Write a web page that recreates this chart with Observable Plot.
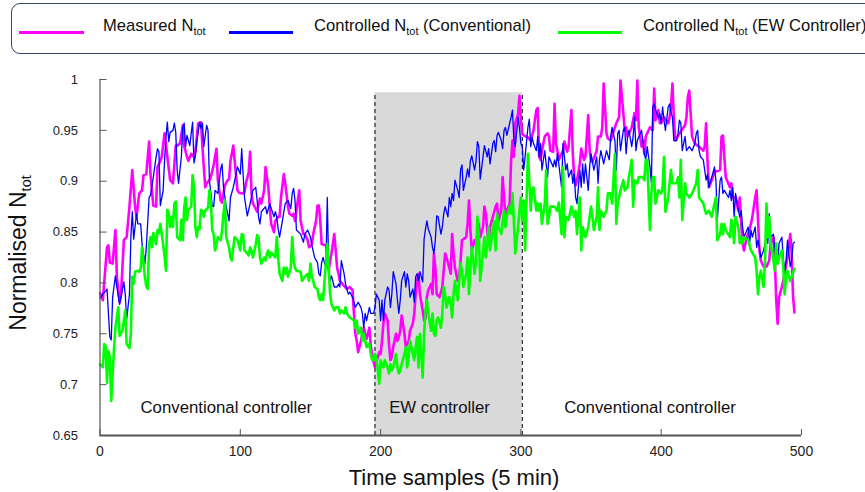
<!DOCTYPE html>
<html><head><meta charset="utf-8">
<script src="https://cdn.jsdelivr.net/npm/d3@7"></script>
<script src="https://cdn.jsdelivr.net/npm/@observablehq/plot@0.6"></script>
<style>
body{margin:0;background:#fff;font-family:"Liberation Sans",Arial,sans-serif;}
#wrap{position:relative;width:865px;height:492px;overflow:hidden;}
#wrap svg{position:absolute;left:0;top:0;}
#legend{position:absolute;left:11px;top:3px;width:900px;height:51px;border:1.3px solid #34456a;border-radius:9px;box-sizing:border-box;}
.lg-line{position:absolute;height:3.2px;top:26.5px;}
.lg-text{position:absolute;top:12px;font-size:16.6px;color:#111;white-space:nowrap;}
.lg-text sub{font-size:11px;vertical-align:-4px;line-height:0;}
#xtitle{position:absolute;left:454px;top:478px;transform:translate(-50%,-50%);font-size:22px;white-space:nowrap;color:#111;}
#ytitle{position:absolute;left:18px;top:253px;transform:translate(-50%,-50%) rotate(-90deg);font-size:23px;white-space:nowrap;color:#111;}
#ytitle sub{font-size:14.5px;vertical-align:-5px;line-height:0;}
</style>
</head><body>
<div id="wrap"></div>
<script>
// ---------- data ----------
const seriesNames = ["Measured N", "Controlled N", "Controlled N"];
const seriesSuffix = ["", " (Conventional)", " (EW Controller)"];
const seriesColors = ["#ff00ff", "#0000ff", "#00ff00"];

// [time sample, normalised Ntot]
const measured = [[0,0.790],[2,0.783],[5,0.835],[6,0.837],[7,0.820],[9,0.819],[11,0.852],[12,0.806],[14,0.781],[15,0.789],[17,0.842],[19,0.845],[21,0.875],[23,0.911],[25,0.875],[26,0.865],[28,0.888],[30,0.891],[31,0.906],[33,0.907],[35,0.939],[36,0.907],[38,0.876],[40,0.875],[41,0.914],[43,0.920],[44,0.924],[46,0.947],[47,0.937],[48,0.924],[50,0.901],[52,0.898],[54,0.935],[55,0.935],[57,0.937],[59,0.955],[60,0.935],[62,0.924],[63,0.920],[65,0.927],[66,0.925],[68,0.929],[70,0.957],[72,0.958],[73,0.934],[75,0.894],[76,0.898],
[78,0.901],[79,0.904],[81,0.916],[83,0.932],[84,0.901],[86,0.881],[87,0.879],[89,0.896],[91,0.901],[92,0.902],[93,0.920],[95,0.935],[96,0.920],[98,0.891],[99,0.889],[101,0.888],[103,0.889],[104,0.898],[106,0.909],[107,0.929],[108,0.888],[109,0.878],[111,0.873],[112,0.870],[114,0.883],[115,0.878],[117,0.891],[118,0.914],[120,0.894],[121,0.875],[122,0.858],[124,0.850],[125,0.861],[127,0.865],[128,0.865],[129,0.884],[131,0.907],[132,0.898],[134,0.875],[135,0.868],[137,0.866],[138,0.868],[139,0.861],[141,0.881],[142,0.891],[143,0.861],[145,0.848],[146,0.848],[148,0.842],[149,0.835],[151,0.838],[152,0.848],[154,0.861],[155,0.876],
[156,0.876],[157,0.861],[158,0.838],[161,0.837],[162,0.829],[163,0.812],[164,0.822],[165,0.829],[167,0.848],[168,0.832],[169,0.815],[170,0.809],[171,0.802],[174,0.797],[176,0.794],[178,0.796],[180,0.793],[181,0.770],[182,0.750],[183,0.743],[184,0.732],[186,0.743],[187,0.750],[188,0.756],[189,0.750],[190,0.745],[192,0.756],[193,0.738],[194,0.730],[195,0.722],[196,0.717],[197,0.722],[199,0.732],[200,0.730],[201,0.743],[202,0.760],[203,0.770],[205,0.763],[206,0.740],[207,0.724],[208,0.727],[209,0.737],[211,0.750],[212,0.743],[213,0.747],[214,0.753],[215,0.768],[217,0.750],[218,0.737],[219,0.740],[220,0.743],[221,0.753],[223,0.760],[224,0.770],[225,0.789],[226,0.802],[227,0.809],[228,0.789],[230,0.773],[231,0.763],[232,0.765],[233,0.786],
[234,0.793],[236,0.799],[237,0.789],[238,0.829],[239,0.815],[240,0.789],[242,0.786],[244,0.796],[245,0.812],[246,0.829],[247,0.825],[249,0.815],[250,0.809],[251,0.848],[252,0.829],[253,0.815],[255,0.802],[256,0.806],[257,0.822],[258,0.842],[261,0.845],[262,0.858],[263,0.881],[264,0.852],[265,0.832],[267,0.842],[268,0.838],[269,0.848],[270,0.858],[271,0.845],[273,0.855],[274,0.875],[275,0.868],[276,0.852],[277,0.838],[278,0.855],[280,0.865],[282,0.875],[283,0.878],[284,0.861],[286,0.871],[287,0.904],[288,0.884],[289,0.865],[290,0.871],[292,0.878],[293,0.920],[294,0.940],[295,0.924],[296,0.957],[298,0.966],[299,0.984],[300,0.960],[301,0.947],[302,0.945],[305,0.943],[307,0.940],[309,0.950],[311,0.970],[312,0.972],
[313,0.924],[314,0.921],[315,0.930],[317,0.944],[319,0.947],[320,0.944],[321,0.930],[323,0.929],[324,0.976],[325,0.937],[326,0.930],[327,0.921],[330,0.930],[331,0.939],[333,0.929],[334,0.934],[336,0.970],[337,0.927],[338,0.904],[339,0.896],[340,0.901],[342,0.917],[343,0.932],[345,0.921],[346,0.924],[348,0.965],[349,0.930],[350,0.921],[351,0.919],[354,0.930],[355,0.944],[357,0.944],[358,0.953],[359,0.996],[361,0.947],[362,0.942],[364,0.940],[367,0.953],[368,0.957],[370,0.963],[371,0.999],[373,0.967],[374,0.950],[375,0.953],[376,0.944],[379,0.953],[381,0.967],[382,0.960],[383,0.999],[384,0.953],[386,0.934],[387,0.940],[388,0.927],[389,0.944],[392,0.953],[394,0.950],[395,0.991],[396,0.960],[398,0.970],[399,0.957],
[400,0.957],[402,0.963],[405,0.957],[406,0.963],[407,0.973],[408,0.996],[409,0.963],[410,0.940],[413,0.947],[417,0.955],[418,0.963],[419,0.983],[420,0.989],[421,0.967],[422,0.944],[424,0.937],[427,0.934],[430,0.930],[431,0.934],[432,0.957],[433,0.921],[434,0.894],[436,0.901],[438,0.909],[442,0.911],[443,0.944],[444,0.945],[445,0.924],[446,0.904],[449,0.894],[450,0.898],[451,0.884],[453,0.884],[455,0.871],[456,0.884],[457,0.858],[458,0.839],[459,0.832],[461,0.845],[463,0.852],[465,0.865],[467,0.884],[468,0.891],[469,0.862],[470,0.832],[471,0.822],[473,0.816],[475,0.816],[477,0.822],[478,0.839],[480,0.845],[481,0.822],[482,0.783],[483,0.760],[484,0.786],[486,0.796],[488,0.809],[490,0.825],[492,0.848],[493,0.829],[494,0.786],[495,0.771]];

const conventional = [[0,0.785],[2,0.789],[4,0.792],[5,0.794],[7,0.747],[8,0.744],[9,0.786],[11,0.807],[12,0.796],[14,0.779],[15,0.786],[17,0.801],[18,0.789],[19,0.764],[21,0.789],[22,0.845],[23,0.870],[24,0.843],[26,0.868],[27,0.858],[29,0.858],[30,0.838],[32,0.819],[33,0.835],[35,0.884],[36,0.886],[38,0.904],[39,0.914],[40,0.924],[41,0.932],[42,0.929],[43,0.876],[45,0.891],[46,0.920],[47,0.943],[48,0.958],[49,0.939],[50,0.948],[52,0.950],[53,0.957],[54,0.948],[55,0.911],[56,0.898],[58,0.924],[59,0.953],[60,0.957],[61,0.934],[62,0.945],[64,0.935],[65,0.947],[66,0.958],[67,0.918],[68,0.925],[69,0.939],[71,0.958],[72,0.952],[73,0.957],[74,0.934],[76,0.955],[77,0.950],
[78,0.901],[80,0.876],[81,0.875],[82,0.891],[84,0.888],[86,0.912],[87,0.917],[88,0.894],[90,0.875],[92,0.861],[93,0.884],[95,0.894],[98,0.914],[100,0.907],[101,0.932],[102,0.907],[103,0.884],[105,0.866],[107,0.878],[109,0.891],[111,0.894],[112,0.881],[113,0.865],[114,0.858],[115,0.870],[118,0.875],[119,0.868],[121,0.878],[124,0.865],[125,0.870],[126,0.865],[127,0.853],[128,0.845],[130,0.861],[132,0.878],[134,0.881],[136,0.873],[137,0.888],[138,0.893],[139,0.881],[140,0.852],[143,0.848],[145,0.840],[146,0.848],[148,0.852],[150,0.845],[151,0.837],[153,0.825],[155,0.820],[156,0.809],[157,0.807],[158,0.820],[159,0.825],[161,0.815],
[162,0.884],[163,0.815],[164,0.802],[165,0.807],[167,0.796],[169,0.796],[170,0.799],[171,0.796],[172,0.822],[174,0.809],[175,0.799],[177,0.789],[178,0.791],[180,0.786],[181,0.781],[182,0.776],[184,0.781],[186,0.776],[187,0.770],[188,0.756],[189,0.770],[190,0.763],[192,0.776],[193,0.770],[195,0.770],[196,0.776],[197,0.789],[199,0.783],[200,0.763],[201,0.783],[202,0.763],[203,0.783],[205,0.796],[206,0.793],[207,0.776],[208,0.789],[209,0.811],[211,0.799],[212,0.783],[213,0.770],[214,0.783],[215,0.802],[217,0.811],[218,0.796],[219,0.809],[220,0.802],[221,0.786],[223,0.794],[224,0.781],[225,0.806],[226,0.809],[227,0.802],[228,0.811],[230,0.801],[231,0.843],[232,0.853],[233,0.861],[234,0.853],[236,0.845],[237,0.835],[238,0.829],[239,0.842],[240,0.866],
[241,0.865],[243,0.848],[244,0.855],[245,0.868],[246,0.875],[248,0.865],[249,0.884],[250,0.875],[251,0.888],[252,0.881],[253,0.901],[255,0.891],[256,0.884],[257,0.911],[258,0.916],[259,0.891],[261,0.904],[262,0.912],[263,0.904],[264,0.920],[265,0.925],[267,0.911],[268,0.920],[269,0.939],[270,0.934],[271,0.902],[273,0.924],[274,0.935],[276,0.924],[277,0.932],[278,0.917],[280,0.937],[281,0.940],[282,0.929],[283,0.945],[284,0.948],[286,0.940],[287,0.932],[288,0.950],[289,0.953],[290,0.945],[292,0.957],[293,0.963],[294,0.970],[295,0.940],[296,0.934],[298,0.963],[299,0.952],[300,0.937],[301,0.934],[302,0.911],[303,0.924],[305,0.953],[306,0.961],[307,0.934],[308,0.943],[309,0.937],[311,0.930],[312,0.944],
[313,0.924],[314,0.937],[315,0.911],[317,0.930],[318,0.917],[319,0.904],[320,0.924],[323,0.914],[324,0.921],[325,0.914],[326,0.927],[327,0.917],[329,0.894],[330,0.937],[331,0.924],[332,0.911],[333,0.917],[334,0.904],[336,0.911],[337,0.898],[338,0.907],[339,0.884],[340,0.878],[342,0.911],[343,0.894],[344,0.917],[345,0.898],[346,0.917],[348,0.891],[349,0.914],[350,0.927],[352,0.911],[354,0.924],[355,0.898],[356,0.921],[357,0.930],[359,0.917],[361,0.930],[363,0.921],[364,0.944],[365,0.953],[367,0.940],[368,0.911],[369,0.947],[370,0.950],[371,0.930],[373,0.950],[374,0.953],[375,0.927],[376,0.944],[377,0.950],[379,0.934],[380,0.944],[381,0.963],[382,0.930],[383,0.940],[386,0.950],[388,0.927],[389,0.921],[390,0.934],[392,0.914],[393,0.898],[394,0.973],[395,0.976],[396,0.970],[398,0.962],[399,0.967],
[400,0.957],[401,0.973],[402,0.960],[403,0.950],[405,0.973],[406,0.976],[407,0.967],[408,0.963],[409,0.940],[411,0.940],[412,0.947],[413,0.960],[414,0.957],[415,0.930],[417,0.944],[418,0.930],[420,0.934],[422,0.930],[424,0.937],[425,0.947],[426,0.950],[427,0.930],[428,0.924],[430,0.921],[431,0.911],[432,0.901],[433,0.907],[434,0.894],[436,0.904],[438,0.914],[439,0.901],[440,0.862],[442,0.901],[443,0.904],[444,0.888],[445,0.891],[448,0.884],[449,0.891],[450,0.881],[451,0.894],[452,0.865],[453,0.888],[455,0.871],[456,0.865],[457,0.871],[458,0.855],[459,0.845],[462,0.855],[463,0.839],[464,0.852],[465,0.845],[467,0.855],[468,0.835],[469,0.842],[470,0.835],[471,0.825],[473,0.832],[474,0.839],[475,0.845],[476,0.839],[477,0.868],[478,0.845],[480,0.848],[481,0.832],[482,0.825],[483,0.819],[484,0.839],[486,0.845],[487,0.825],[488,0.812],[489,0.822],[490,0.842],[492,0.816],[493,0.822],[494,0.839],[495,0.840]];

const ew = [[0,0.720],[2,0.717],[3,0.740],[4,0.738],[5,0.702],[6,0.733],[7,0.727],[8,0.684],[10,0.736],[11,0.756],[13,0.776],[14,0.748],[16,0.753],[17,0.763],[18,0.773],[19,0.740],[21,0.736],[22,0.750],[23,0.806],[24,0.799],[25,0.811],[27,0.812],[28,0.811],[29,0.814],[30,0.835],[32,0.806],[33,0.797],[34,0.794],[35,0.838],[36,0.845],[37,0.835],[38,0.849],[40,0.838],[41,0.852],[42,0.849],[43,0.858],[45,0.838],[46,0.827],[47,0.812],[48,0.872],[49,0.868],[50,0.855],[51,0.865],[52,0.855],[53,0.878],[54,0.880],[55,0.845],[57,0.842],[58,0.862],[59,0.842],[60,0.874],[61,0.884],[62,0.862],[63,0.872],[65,0.875],[66,0.906],[67,0.894],[68,0.855],[69,0.845],[70,0.855],[71,0.853],[72,0.872],[73,0.871],[74,0.865],[75,0.871],[77,0.874],[78,0.891],[79,0.880],
[80,0.852],[81,0.848],[82,0.832],[83,0.838],[84,0.845],[86,0.842],[87,0.852],[88,0.868],[89,0.881],[90,0.845],[92,0.835],[93,0.825],[94,0.822],[95,0.835],[96,0.845],[98,0.842],[100,0.832],[101,0.848],[102,0.847],[103,0.832],[105,0.829],[106,0.827],[107,0.835],[108,0.832],[109,0.825],[111,0.838],[112,0.847],[113,0.845],[114,0.825],[115,0.819],[117,0.825],[118,0.822],[119,0.829],[120,0.832],[121,0.825],[122,0.830],[125,0.825],[126,0.845],[127,0.825],[128,0.809],[130,0.802],[131,0.815],[132,0.809],[133,0.815],[134,0.806],[136,0.815],[137,0.845],[138,0.822],[139,0.815],[140,0.812],[143,0.811],[144,0.802],[146,0.806],[148,0.809],[149,0.802],[150,0.819],[151,0.806],[152,0.802],[153,0.796],[155,0.794],[156,0.786],[157,0.783],[158,0.789],[159,0.783],
[162,0.838],[163,0.815],[164,0.789],[165,0.779],[167,0.773],[168,0.776],[170,0.776],[171,0.770],[172,0.773],[174,0.770],[175,0.776],[176,0.770],[178,0.766],[181,0.763],[182,0.756],[183,0.763],[184,0.750],[186,0.756],[187,0.743],[188,0.750],[189,0.743],[190,0.737],[192,0.740],[193,0.730],[194,0.724],[195,0.724],[196,0.730],[197,0.727],[199,0.701],[200,0.724],[201,0.720],[202,0.717],[203,0.724],[205,0.717],[206,0.711],[207,0.720],[208,0.714],[209,0.717],[211,0.730],[212,0.717],[213,0.711],[214,0.714],[215,0.720],[217,0.730],[218,0.737],[219,0.717],[220,0.727],[221,0.743],[223,0.730],[224,0.724],[225,0.737],[226,0.747],[227,0.717],[228,0.750],[230,0.707],[231,0.750],[232,0.773],[233,0.783],[234,0.770],
[236,0.753],[237,0.770],[238,0.750],[239,0.748],[240,0.763],[241,0.766],[243,0.756],[244,0.770],[245,0.796],[246,0.789],[247,0.776],[249,0.786],[250,0.779],[251,0.766],[252,0.789],[253,0.802],[255,0.783],[256,0.802],[257,0.819],[258,0.812],[259,0.796],[261,0.809],[262,0.825],[263,0.789],[264,0.815],[265,0.835],[267,0.809],[268,0.822],[269,0.865],[270,0.848],[271,0.802],[273,0.829],[274,0.845],[275,0.825],[276,0.838],[277,0.855],[278,0.832],[280,0.852],[281,0.861],[282,0.832],[283,0.868],[284,0.855],[286,0.848],[287,0.861],[288,0.871],[289,0.855],[290,0.865],[292,0.875],[293,0.868],[294,0.888],[295,0.861],[296,0.829],[298,0.855],[299,0.871],[300,0.884],[301,0.861],[302,0.881],[303,0.832],[305,0.927],[306,0.901],[307,0.871],[308,0.891],[309,0.894],[311,0.871],[312,0.878],
[313,0.871],[314,0.878],[315,0.858],[317,0.878],[318,0.911],[319,0.858],[320,0.865],[321,0.875],[324,0.875],[326,0.871],[327,0.879],[329,0.848],[330,0.914],[331,0.845],[332,0.865],[334,0.862],[336,0.875],[338,0.865],[339,0.871],[340,0.848],[342,0.884],[343,0.832],[344,0.855],[346,0.845],[348,0.855],[350,0.875],[351,0.865],[352,0.852],[354,0.865],[355,0.894],[356,0.852],[357,0.871],[359,0.865],[361,0.871],[362,0.888],[364,0.888],[365,0.878],[367,0.927],[368,0.858],[369,0.878],[371,0.891],[373,0.901],[374,0.891],[376,0.894],[377,0.904],[379,0.921],[380,0.875],[381,0.901],[383,0.898],[384,0.904],[387,0.904],[388,0.901],[389,0.921],[390,0.921],[392,0.852],[393,0.888],[394,0.904],[395,0.904],[396,0.878],[398,0.891],
[400,0.888],[401,0.894],[402,0.924],[403,0.870],[405,0.884],[406,0.898],[407,0.911],[408,0.898],[411,0.898],[412,0.904],[413,0.884],[414,0.921],[415,0.862],[417,0.898],[418,0.888],[420,0.884],[422,0.888],[425,0.898],[426,0.911],[427,0.884],[430,0.878],[432,0.868],[434,0.871],[436,0.865],[438,0.878],[439,0.884],[440,0.842],[442,0.848],[443,0.858],[444,0.848],[445,0.858],[446,0.852],[449,0.845],[450,0.862],[451,0.855],[452,0.839],[453,0.865],[455,0.855],[456,0.839],[457,0.845],[458,0.839],[459,0.845],[462,0.842],[464,0.832],[467,0.825],[468,0.812],[469,0.789],[470,0.806],[471,0.812],[473,0.796],[474,0.822],[475,0.878],[476,0.845],[477,0.865],[478,0.839],[480,0.822],[481,0.812],[482,0.839],[483,0.819],[484,0.825],[486,0.832],[487,0.816],[488,0.789],[489,0.806],[490,0.812],[492,0.802],[493,0.806],[495,0.814]];

const xTicks = [0, 100, 200, 300, 400, 500];
const yTicks = [0.65, 0.7, 0.75, 0.8, 0.85, 0.9, 0.95, 1];
const ewPeriod = [{start: 196, end: 301, top: 0.987}];
const ewEdges = [196, 301];
const regionLabels = [
  {label: "Conventional controller", t: 90, v: 0.677},
  {label: "EW controller", t: 242, v: 0.677},
  {label: "Conventional controller", t: 392, v: 0.677}
];
const xTitle = "Time samples (5 min)";
const yTitle = "Normalised N";
const subText = "tot";

// ---------- chart ----------
const W = 865, H = 492, mL = 99.5, mR = 64, mT = 79, mB = 57;
const font = "'Liberation Sans', Arial, sans-serif";
const axisColor = "#555";

const chart = Plot.plot({
  width: W, height: H,
  marginLeft: mL, marginRight: mR, marginTop: mT, marginBottom: mB,
  style: {fontFamily: font, background: "transparent", overflow: "visible"},
  x: {domain: [0, 500]},
  y: {domain: [0.65, 1]},
  marks: [
    Plot.rect(ewPeriod, {x1: "start", x2: "end", y1: 0.65, y2: "top", fill: "#d9d9d9"}),
    Plot.ruleX(ewEdges, {x: d => d, y1: 0.65, y2: ewPeriod[0].top, stroke: "#000", strokeWidth: 1, strokeDasharray: "4,3"}),
    Plot.line(measured, {x: d => d[0], y: d => d[1], stroke: seriesColors[0], strokeWidth: 2.6}),
    Plot.line(conventional, {x: d => d[0], y: d => d[1], stroke: seriesColors[1], strokeWidth: 1.3}),
    Plot.line(ew, {x: d => d[0], y: d => d[1], stroke: seriesColors[2], strokeWidth: 2.6}),
    // inward ticks
    Plot.ruleY(yTicks, {y: d => d, insetRight: W - mL - mR - 7, stroke: axisColor}),
    Plot.ruleX(xTicks, {x: d => d, insetTop: H - mT - mB - 6, stroke: axisColor}),
    // axis lines
    Plot.ruleX([0], {stroke: axisColor, strokeWidth: 1.2}),
    Plot.ruleY([0.65], {stroke: axisColor, strokeWidth: 2}),
    Plot.axisY(yTicks, {tickSize: 0, tickPadding: 22, tickFormat: d => String(d), fontSize: 13, fill: "#222"}),
    Plot.axisX(xTicks, {tickSize: 0, tickPadding: 11, tickFormat: d => String(d), fontSize: 14, fill: "#222"}),
    Plot.text(regionLabels, {x: "t", y: "v", text: "label", fontSize: 16.8, fill: "#111"})
  ]
});

const wrap = document.getElementById("wrap");
wrap.appendChild(chart);

// legend (HTML, above the plot)
const legend = document.createElement("div");
legend.id = "legend";
wrap.appendChild(legend);
const lgLayout = [
  {line: [7, 72], text: 91},
  {line: [217, 281], text: 302},
  {line: [546, 610], text: 631}
];
seriesNames.forEach((name, i) => {
  const ln = document.createElement("div");
  ln.className = "lg-line";
  ln.style.left = lgLayout[i].line[0] + "px";
  ln.style.width = (lgLayout[i].line[1] - lgLayout[i].line[0]) + "px";
  ln.style.background = seriesColors[i];
  legend.appendChild(ln);
  const tx = document.createElement("div");
  tx.className = "lg-text";
  tx.style.left = lgLayout[i].text + "px";
  tx.innerHTML = name + "<sub>" + subText + "</sub>" + seriesSuffix[i];
  legend.appendChild(tx);
});

const xt = document.createElement("div");
xt.id = "xtitle"; xt.textContent = xTitle; wrap.appendChild(xt);
const yt = document.createElement("div");
yt.id = "ytitle"; yt.innerHTML = yTitle + "<sub>" + subText + "</sub>"; wrap.appendChild(yt);
</script>
</body></html>
